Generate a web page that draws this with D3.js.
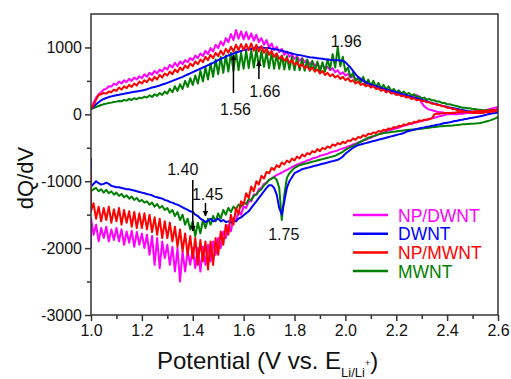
<!DOCTYPE html>
<html>
<head>
<meta charset="utf-8">
<script src="https://cdn.jsdelivr.net/npm/d3@7/dist/d3.min.js"></script>
<style>
  html, body { margin: 0; padding: 0; background: #fff; }
  svg { display: block; }
  text { font-family: "Liberation Sans", Arial, Helvetica, sans-serif; }
</style>
</head>
<body>
<svg id="chart" width="511" height="379"></svg>
<script>
// Potential grid (V vs. Li/Li+), 10 mV steps, shared by every branch
const potential = [
  1.00, 1.01, 1.02, 1.03, 1.04, 1.05, 1.06, 1.07, 1.08, 1.09,
  1.10, 1.11, 1.12, 1.13, 1.14, 1.15, 1.16, 1.17, 1.18, 1.19,
  1.20, 1.21, 1.22, 1.23, 1.24, 1.25, 1.26, 1.27, 1.28, 1.29,
  1.30, 1.31, 1.32, 1.33, 1.34, 1.35, 1.36, 1.37, 1.38, 1.39,
  1.40, 1.41, 1.42, 1.43, 1.44, 1.45, 1.46, 1.47, 1.48, 1.49,
  1.50, 1.51, 1.52, 1.53, 1.54, 1.55, 1.56, 1.57, 1.58, 1.59,
  1.60, 1.61, 1.62, 1.63, 1.64, 1.65, 1.66, 1.67, 1.68, 1.69,
  1.70, 1.71, 1.72, 1.73, 1.74, 1.75, 1.76, 1.77, 1.78, 1.79,
  1.80, 1.81, 1.82, 1.83, 1.84, 1.85, 1.86, 1.87, 1.88, 1.89,
  1.90, 1.91, 1.92, 1.93, 1.94, 1.95, 1.96, 1.97, 1.98, 1.99,
  2.00, 2.01, 2.02, 2.03, 2.04, 2.05, 2.06, 2.07, 2.08, 2.09,
  2.10, 2.11, 2.12, 2.13, 2.14, 2.15, 2.16, 2.17, 2.18, 2.19,
  2.20, 2.21, 2.22, 2.23, 2.24, 2.25, 2.26, 2.27, 2.28, 2.29,
  2.30, 2.31, 2.32, 2.33, 2.34, 2.35, 2.36, 2.37, 2.38, 2.39,
  2.40, 2.41, 2.42, 2.43, 2.44, 2.45, 2.46, 2.47, 2.48, 2.49,
  2.50, 2.51, 2.52, 2.53, 2.54, 2.55, 2.56, 2.57, 2.58, 2.59,
  2.60
];

const seriesNames = ["NP/DWNT", "DWNT", "NP/MWNT", "MWNT"];
const seriesColors = ["#ff00ff", "#0000ff", "#ff0000", "#008000"];

// dQ/dV at the very start of the discharge scan (1.0 V)
const dischargeOnset = [-2000, -650, -830, -1000];

// Charge (anodic) branches, dQ/dV
const chargeNPDWNT = [
  80, 170, 250, 300, 330, 370, 380, 420, 415, 460,
  440, 490, 460, 510, 480, 530, 500, 550, 520, 570,
  540, 600, 560, 620, 590, 650, 610, 670, 640, 700,
  670, 740, 700, 770, 720, 790, 750, 810, 780, 840,
  810, 880, 840, 910, 870, 950, 900, 990, 940, 1040,
  990, 1090, 1030, 1140, 1080, 1200, 1110, 1260, 1130, 1240,
  1120, 1230, 1120, 1210, 1100, 1190, 1080, 1140, 1040, 1110,
  1000, 1060, 960, 1010, 930, 980, 890, 940, 860, 900,
  830, 870, 800, 840, 780, 810, 750, 790, 730, 760,
  700, 740, 680, 710, 660, 690, 630, 660, 600, 630,
  580, 600, 550, 570, 520, 540, 490, 510, 460, 480,
  440, 450, 410, 420, 390, 390, 360, 370, 340, 340,
  310, 320, 290, 300, 270, 280, 260, 280, 290, 250,
  170, 120, 90, 70, 60, 50, 40, 30, 30, 20,
  20, 10, 10, 0, 0, 10, 10, 20, 20, 20,
  30, 30, 40, 50, 50, 60, 70, 80, 90, 100,
  110
];
const chargeDWNT = [
  80, 115, 150, 180, 210, 230, 245, 258, 268, 278,
  285, 292, 300, 308, 315, 322, 330, 336, 342, 348,
  355, 365, 375, 388, 400, 410, 420, 432, 445, 458,
  470, 485, 500, 515, 530, 545, 560, 578, 595, 612,
  630, 648, 665, 682, 700, 718, 735, 752, 770, 790,
  810, 828, 845, 862, 880, 895, 910, 925, 935, 948,
  960, 968, 975, 982, 990, 995, 1000, 1000, 995, 992,
  990, 982, 975, 968, 960, 950, 940, 930, 920, 910,
  900, 892, 885, 878, 870, 862, 855, 850, 845, 840,
  835, 830, 825, 820, 815, 812, 810, 808, 805, 800,
  780, 740, 700, 650, 600, 560, 530, 505, 480, 460,
  445, 432, 420, 408, 395, 382, 370, 360, 350, 340,
  330, 318, 305, 295, 285, 272, 260, 250, 240, 230,
  220, 208, 195, 182, 170, 160, 150, 140, 130, 120,
  110, 102, 95, 88, 80, 72, 65, 58, 50, 45,
  40, 38, 35, 35, 35, 38, 40, 45, 50, 55,
  60
];
const chargeNPMWNT = [
  80, 140, 220, 290, 300, 320, 310, 340, 330, 370,
  350, 400, 370, 420, 390, 440, 410, 460, 430, 490,
  460, 510, 480, 540, 500, 560, 520, 590, 550, 610,
  580, 640, 600, 670, 630, 700, 660, 730, 690, 760,
  720, 790, 750, 820, 780, 860, 810, 890, 840, 920,
  870, 950, 890, 980, 920, 1010, 940, 1040, 960, 1050,
  960, 1050, 960, 1060, 950, 1040, 940, 1020, 920, 990,
  890, 950, 860, 910, 830, 870, 800, 840, 770, 810,
  740, 780, 710, 750, 690, 720, 660, 700, 640, 670,
  610, 650, 590, 620, 570, 600, 550, 580, 530, 560,
  510, 540, 490, 510, 460, 490, 440, 460, 420, 440,
  400, 420, 380, 390, 350, 370, 330, 350, 310, 320,
  290, 300, 270, 280, 250, 260, 230, 240, 210, 220,
  200, 200, 180, 180, 160, 160, 140, 140, 120, 120,
  100, 100, 80, 80, 60, 60, 50, 40, 30, 30,
  20, 20, 20, 20, 20, 30, 30, 40, 40, 50,
  60
];
const chargeMWNT = [
  80, 95, 110, 125, 140, 150, 160, 170, 175, 185,
  190, 200, 195, 215, 205, 230, 215, 240, 225, 250,
  240, 265, 250, 285, 260, 300, 275, 320, 290, 340,
  310, 380, 330, 420, 350, 450, 380, 500, 410, 540,
  440, 580, 460, 650, 490, 700, 520, 760, 560, 820,
  600, 860, 620, 880, 640, 920, 650, 940, 660, 920,
  680, 950, 690, 960, 700, 980, 700, 950, 710, 930,
  690, 920, 680, 900, 680, 880, 670, 870, 670, 860,
  660, 850, 660, 830, 650, 820, 650, 800, 640, 790,
  630, 780, 640, 820, 680, 900, 700, 1000, 720, 860,
  640, 700, 560, 620, 500, 540, 480, 560, 450, 520,
  430, 500, 410, 470, 390, 440, 370, 420, 350, 380,
  330, 360, 310, 340, 300, 320, 280, 300, 260, 270,
  240, 250, 220, 230, 210, 210, 190, 190, 170, 170,
  150, 150, 140, 130, 120, 110, 100, 100, 90, 90,
  80, 80, 70, 70, 60, 60, 60, 60, 60, 65,
  70
];

// Discharge (cathodic) branches, dQ/dV
const dischargeNPDWNT = [
  -1550, -1800, -1650, -1900, -1700, -1850, -1680, -1900, -1720, -1880,
  -1700, -1900, -1720, -1950, -1750, -1920, -1740, -1980, -1760, -1950,
  -1780, -2000, -1800, -2100, -1820, -2250, -1850, -2300, -1900, -2150,
  -1950, -2250, -1980, -2350, -2000, -2500, -2050, -2350, -2050, -2250,
  -2000, -2300, -2000, -2350, -1980, -2250, -1950, -2200, -1900, -2100,
  -1850, -2000, -1750, -1850, -1650, -1750, -1550, -1600, -1450, -1500,
  -1380, -1400, -1300, -1300, -1200, -1200, -1120, -1100, -1040, -1020,
  -980, -960, -930, -910, -890, -870, -850, -830, -810, -790,
  -770, -750, -740, -720, -710, -690, -680, -660, -650, -640,
  -620, -610, -600, -590, -570, -560, -550, -540, -520, -510,
  -500, -480, -470, -450, -440, -420, -410, -390, -380, -360,
  -350, -330, -320, -300, -290, -270, -260, -240, -230, -220,
  -210, -200, -180, -170, -160, -150, -140, -130, -120, -110,
  -100, -90, -80, -70, -60, -50, -40, -30, -20, -10,
  0, 0, 5, 5, 10, 10, 15, 15, 20, 20,
  25, 25, 30, 35, 40, 45, 50, 55, 60, 70,
  80
];
const dischargeDWNT = [
  -1080, -1040, -1000, -1030, -1050, -1040, -1020, -1040, -1070, -1080,
  -1090, -1090, -1100, -1110, -1120, -1120, -1130, -1140, -1150, -1160,
  -1170, -1180, -1190, -1200, -1210, -1230, -1240, -1250, -1260, -1280,
  -1290, -1310, -1320, -1340, -1350, -1370, -1390, -1410, -1430, -1450,
  -1460, -1500, -1520, -1560, -1580, -1610, -1590, -1560, -1600, -1580,
  -1560, -1600, -1580, -1610, -1600, -1620, -1590, -1600, -1560, -1540,
  -1510, -1480, -1450, -1400, -1350, -1300, -1250, -1200, -1150, -1100,
  -1060, -1060, -1100, -1200, -1400, -1500, -1300, -1100, -1000, -940,
  -880, -860, -840, -820, -810, -800, -790, -780, -770, -760,
  -750, -740, -730, -720, -710, -700, -690, -680, -660, -630,
  -590, -560, -530, -500, -480, -460, -450, -440, -430, -420,
  -410, -400, -390, -380, -370, -360, -350, -340, -330, -320,
  -310, -300, -290, -280, -260, -250, -240, -230, -220, -210,
  -200, -195, -185, -180, -170, -165, -155, -150, -140, -130,
  -125, -120, -110, -100, -95, -85, -80, -70, -65, -55,
  -50, -45, -35, -30, -20, -10, 0, 10, 15, 20,
  30
];
const dischargeNPMWNT = [
  -1450, -1330, -1560, -1380, -1600, -1400, -1580, -1380, -1620, -1420,
  -1600, -1400, -1650, -1430, -1620, -1450, -1680, -1460, -1700, -1480,
  -1700, -1480, -1720, -1500, -1760, -1540, -1800, -1560, -1850, -1600,
  -1850, -1620, -1900, -1680, -1980, -1720, -2050, -1780, -2100, -1820,
  -2150, -1850, -2250, -1880, -2200, -1900, -2320, -1900, -2250, -1850,
  -2100, -1750, -1950, -1650, -1800, -1500, -1650, -1400, -1500, -1300,
  -1350, -1180, -1250, -1080, -1150, -1000, -1050, -920, -960, -860,
  -880, -800, -830, -760, -790, -720, -750, -690, -720, -660,
  -690, -630, -660, -600, -630, -580, -600, -550, -570, -520,
  -550, -500, -520, -480, -500, -450, -470, -430, -450, -410,
  -430, -390, -400, -360, -380, -340, -350, -310, -330, -290,
  -300, -270, -280, -250, -260, -230, -240, -210, -220, -190,
  -200, -170, -180, -150, -160, -130, -140, -110, -120, -90,
  -100, -80, -80, -70, -60, 0, 10, 10, 15, 15,
  20, 20, 25, 25, 30, 30, 35, 35, 40, 40,
  40, 45, 45, 50, 50, 55, 55, 60, 60, 65,
  70
];
const dischargeMWNT = [
  -1150, -1120, -1100, -1150, -1120, -1170, -1130, -1180, -1150, -1200,
  -1170, -1220, -1190, -1240, -1210, -1260, -1230, -1280, -1250, -1300,
  -1280, -1320, -1300, -1350, -1320, -1380, -1340, -1400, -1370, -1430,
  -1400, -1470, -1430, -1520, -1460, -1580, -1500, -1650, -1560, -1720,
  -1600, -1820, -1620, -1780, -1580, -1700, -1560, -1650, -1520, -1600,
  -1480, -1560, -1430, -1500, -1400, -1460, -1380, -1420, -1350, -1380,
  -1320, -1340, -1270, -1280, -1220, -1200, -1150, -1120, -1060, -1030,
  -980, -960, -940, -980, -1100, -1580, -1200, -950, -880, -840,
  -800, -780, -760, -750, -740, -730, -720, -710, -700, -690,
  -680, -670, -660, -650, -640, -630, -620, -600, -580, -560,
  -530, -510, -490, -470, -450, -430, -410, -390, -370, -350,
  -340, -325, -310, -300, -290, -280, -275, -270, -265, -260,
  -255, -250, -245, -240, -235, -230, -228, -225, -222, -220,
  -215, -210, -205, -200, -195, -190, -185, -180, -178, -175,
  -172, -170, -168, -165, -160, -155, -150, -148, -145, -142,
  -140, -138, -135, -130, -120, -110, -100, -90, -75, -60,
  -40
];

const chargeSeries = [chargeNPDWNT, chargeDWNT, chargeNPMWNT, chargeMWNT];
const dischargeSeries = [dischargeNPDWNT, dischargeDWNT, dischargeNPMWNT, dischargeMWNT];

// Axis ticks
const xTicks = [1.0, 1.2, 1.4, 1.6, 1.8, 2.0, 2.2, 2.4, 2.6];
const xMinorTicks = [1.1, 1.3, 1.5, 1.7, 1.9, 2.1, 2.3, 2.5];
const yTicks = [-3000, -2000, -1000, 0, 1000];
const yMinorTicks = [-2500, -1500, -500, 500];

// Marked peak potentials (V)
const peakPotentials = [1.56, 1.66, 1.96, 1.40, 1.45, 1.75];

const svg = d3.select("#chart");
const plotLeft = 91, plotRight = 498, plotTop = 14, plotBottom = 315;

const x = d3.scaleLinear().domain([1.0, 2.6]).range([plotLeft, plotRight]);
const y = d3.scaleLinear().domain([-3000, 1500]).range([plotBottom, plotTop]);

const defs = svg.append("defs");
defs.append("clipPath").attr("id", "plotClip")
  .append("rect").attr("x", plotLeft).attr("y", plotTop)
  .attr("width", plotRight - plotLeft).attr("height", plotBottom - plotTop);

// Curves, drawn back to front
const drawOrder = [0, 3, 1, 2];
const line = d3.line().x(d => x(d[0])).y(d => y(d[1]));
const curves = svg.append("g").attr("clip-path", "url(#plotClip)");
drawOrder.forEach(k => {
  const charge = potential.map((p, i) => [p, chargeSeries[k][i]]);
  const discharge = [[potential[0], dischargeOnset[k]]]
    .concat(potential.map((p, i) => [p, dischargeSeries[k][i]]));
  [charge, discharge].forEach(pts => {
    curves.append("path")
      .attr("d", line(pts))
      .attr("fill", "none")
      .attr("stroke", seriesColors[k])
      .attr("stroke-width", 2)
      .attr("stroke-linejoin", "round");
  });
});

// Axes
const axisColor = "#333";
const xAxis = svg.append("g").attr("transform", `translate(0,${plotBottom})`)
  .call(d3.axisBottom(x).tickValues(xTicks).tickSize(6).tickPadding(4)
    .tickFormat(d3.format(".1f")));
const xMinor = svg.append("g").attr("transform", `translate(0,${plotBottom})`)
  .call(d3.axisBottom(x).tickValues(xMinorTicks).tickSize(4).tickFormat(""));
const yAxis = svg.append("g").attr("transform", `translate(${plotLeft},0)`)
  .call(d3.axisLeft(y).tickValues(yTicks).tickSize(6).tickPadding(3)
    .tickFormat(d => String(d)));
const yMinor = svg.append("g").attr("transform", `translate(${plotLeft},0)`)
  .call(d3.axisLeft(y).tickValues(yMinorTicks).tickSize(4).tickFormat(""));

[xAxis, xMinor, yAxis, yMinor].forEach(g => {
  g.select(".domain").remove();
  g.selectAll(".tick line").attr("stroke", axisColor).attr("stroke-width", 1.5);
  g.selectAll(".tick text").attr("fill", "#111").style("font-size", "16px")
    .style("font-family", "'Liberation Sans', Arial, sans-serif");
});

svg.append("rect")
  .attr("x", plotLeft).attr("y", plotTop)
  .attr("width", plotRight - plotLeft).attr("height", plotBottom - plotTop)
  .attr("fill", "none").attr("stroke", axisColor).attr("stroke-width", 1.5);

// Axis titles
const xTitle = svg.append("text")
  .attr("x", 157).attr("y", 369)
  .attr("text-anchor", "start")
  .style("font-size", "24px").attr("fill", "#111");
xTitle.append("tspan").text("Potential (V vs. E");
xTitle.append("tspan").attr("dy", 8).style("font-size", "13px").text("Li/Li");
xTitle.append("tspan").attr("dy", -11).style("font-size", "9px").text("+");
xTitle.append("tspan").attr("dy", 3).text(")");

svg.append("text")
  .attr("transform", "translate(33,178) rotate(-90)")
  .attr("text-anchor", "middle")
  .style("font-size", "22px").attr("fill", "#111")
  .text("dQ/dV");

// Legend
const legend = svg.append("g");
seriesNames.forEach((name, k) => {
  const ly = 215 + k * 18.7;
  legend.append("line")
    .attr("x1", 353).attr("x2", 388).attr("y1", ly).attr("y2", ly)
    .attr("stroke", seriesColors[k]).attr("stroke-width", 2.5);
  legend.append("text")
    .attr("x", 398).attr("y", ly + 6.5)
    .style("font-size", "17.5px")
    .attr("fill", seriesColors[k])
    .text(name);
});

// Peak annotations
const marker = defs.append("marker")
  .attr("id", "arrowHead").attr("viewBox", "0 0 10 10")
  .attr("refX", 9).attr("refY", 5)
  .attr("markerWidth", 6).attr("markerHeight", 6)
  .attr("markerUnits", "userSpaceOnUse")
  .attr("orient", "auto");
marker.append("path").attr("d", "M0,0 L10,5 L0,10 Z").attr("fill", "#000");

function arrow(v, y0, y1) {
  svg.append("line")
    .attr("x1", x(v)).attr("x2", x(v)).attr("y1", y0).attr("y2", y1)
    .attr("stroke", "#000").attr("stroke-width", 1.5)
    .attr("marker-end", "url(#arrowHead)");
}
function label(v, dx, by) {
  svg.append("text")
    .attr("x", x(v) + dx).attr("y", by)
    .attr("text-anchor", "middle")
    .style("font-size", "16px").attr("fill", "#111")
    .text(d3.format(".2f")(v));
}

arrow(peakPotentials[0], 93, 55);
label(peakPotentials[0], 2, 115);
arrow(peakPotentials[1], 79, 61);
label(peakPotentials[1], 6, 97);
label(peakPotentials[2], 11, 47);
arrow(peakPotentials[3], 180, 231);
label(peakPotentials[3], -10, 175);
arrow(peakPotentials[4], 203, 216);
label(peakPotentials[4], 2, 200);
label(peakPotentials[5], 2, 240);
</script>
</body>
</html>
